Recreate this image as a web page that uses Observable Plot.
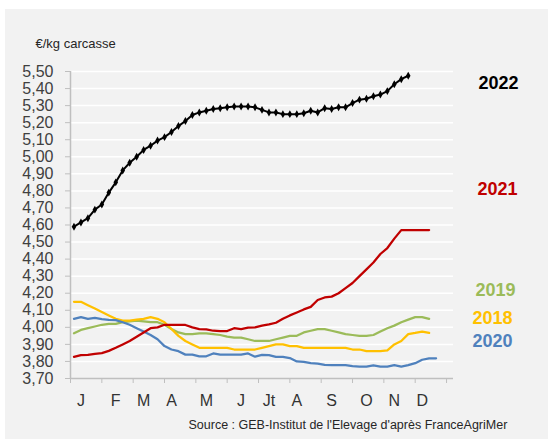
<!DOCTYPE html>
<html><head><meta charset="utf-8">
<script src="https://cdn.jsdelivr.net/npm/d3@7"></script>
<script src="https://cdn.jsdelivr.net/npm/@observablehq/plot@0.6"></script>
<style>
body{margin:0;background:#fff;width:548px;height:448px;overflow:hidden;position:relative;font-family:"Liberation Sans",Arial,sans-serif}
#panel{position:absolute;left:5px;top:9px;width:543px;height:430px;background:#f2f2f2}
#chart{position:absolute;left:0;top:0}
</style></head><body><div id="panel"></div><div id="chart"></div>
<script>
const seriesNames = ["2019", "2018", "2020", "2021", "2022"];
const seriesColors = ["#9bbb59", "#ffc000", "#4f81bd", "#c00000", "#000000"];

const price2022 = [4.59, 4.615, 4.64, 4.69, 4.72, 4.79, 4.85, 4.92, 4.965, 5.00,
  5.04, 5.065, 5.095, 5.115, 5.145, 5.18, 5.21, 5.245, 5.26, 5.27,
  5.28, 5.285, 5.29, 5.295, 5.295, 5.295, 5.29, 5.275, 5.26, 5.26,
  5.25, 5.25, 5.25, 5.255, 5.27, 5.26, 5.285, 5.28, 5.29, 5.29,
  5.315, 5.335, 5.34, 5.355, 5.365, 5.385, 5.425, 5.455, 5.475];
const price2021 = [3.827, 3.837, 3.838, 3.845, 3.849, 3.862, 3.88, 3.90, 3.92, 3.945,
  3.97, 3.995, 4.00, 4.015, 4.015, 4.015, 4.014, 4.00, 3.99, 3.988,
  3.98, 3.978, 3.978, 3.995, 3.99, 3.998, 4.00, 4.01, 4.017, 4.027,
  4.05, 4.07, 4.087, 4.105, 4.12, 4.16, 4.175, 4.18, 4.20, 4.23,
  4.26, 4.30, 4.34, 4.38, 4.43, 4.465, 4.52, 4.57, 4.57, 4.57,
  4.57, 4.57];
const price2019 = [3.965, 3.985, 3.995, 4.005, 4.015, 4.02, 4.02, 4.03, 4.035, 4.04,
  4.035, 4.03, 4.03, 4.015, 3.99, 3.97, 3.96, 3.96, 3.965, 3.965,
  3.96, 3.955, 3.945, 3.94, 3.94, 3.93, 3.92, 3.92, 3.92, 3.93,
  3.94, 3.95, 3.95, 3.97, 3.98, 3.99, 3.99, 3.98, 3.97, 3.96,
  3.955, 3.95, 3.95, 3.955, 3.975, 3.995, 4.01, 4.03, 4.045, 4.06,
  4.06, 4.05];
const price2018 = [4.15, 4.15, 4.13, 4.11, 4.09, 4.07, 4.05, 4.04, 4.04, 4.045,
  4.05, 4.06, 4.05, 4.03, 3.99, 3.95, 3.92, 3.90, 3.88, 3.88,
  3.88, 3.88, 3.88, 3.87, 3.87, 3.87, 3.87, 3.88, 3.89, 3.90,
  3.90, 3.89, 3.89, 3.88, 3.88, 3.88, 3.88, 3.88, 3.88, 3.88,
  3.87, 3.87, 3.86, 3.86, 3.86, 3.865, 3.90, 3.92, 3.96, 3.967,
  3.975, 3.967];
const price2020 = [4.05, 4.06, 4.05, 4.055, 4.048, 4.044, 4.042, 4.03, 4.015, 3.995,
  3.976, 3.955, 3.93, 3.89, 3.87, 3.86, 3.84, 3.84, 3.83, 3.83,
  3.847, 3.84, 3.84, 3.84, 3.84, 3.847, 3.828, 3.838, 3.837, 3.827,
  3.827, 3.82, 3.80, 3.797, 3.79, 3.787, 3.78, 3.778, 3.778, 3.778,
  3.773, 3.77, 3.77, 3.777, 3.77, 3.77, 3.778, 3.77, 3.778, 3.79,
  3.81, 3.818, 3.818];

const monthLabels = ["J", "F", "M", "A", "M", "J", "Jt", "A", "S", "O", "N", "D"];
const monthLabelWeeks = [2, 7, 11, 15, 20, 25, 29, 33, 38, 43, 47, 51];
const monthBoundaryWeeks = [0.5, 5, 9.5, 14, 18.5, 23, 27.5, 32, 36.5, 41, 45.5, 50, 54.5];
const yTickValues = [3.7, 3.8, 3.9, 4.0, 4.1, 4.2, 4.3, 4.4, 4.5, 4.6, 4.7, 4.8, 4.9, 5.0, 5.1, 5.2, 5.3, 5.4, 5.5];
const unitLabel = "€/kg carcasse";
const sourceLabel = "Source : GEB-Institut de l'Elevage d'après FranceAgriMer";

const priceBySeries = {"2022": price2022, "2021": price2021, "2019": price2019, "2018": price2018, "2020": price2020};
const rows = seriesNames.flatMap(name => priceBySeries[name].map((v, i) => ({series: name, week: i + 1, price: v})));
const colorOf = Object.fromEntries(seriesNames.map((n, i) => [n, seriesColors[i]]));

const FONT = "'Liberation Sans', Arial, sans-serif";
const labelPlacement = {"2022": [25, 12], "2021": [24, 118], "2019": [22, 219], "2018": [19, 247], "2020": [19, 270]};

const marks = [
  Plot.ruleY(yTickValues.filter(d => d > 3.7), {stroke: "#ffffff", strokeWidth: 1.5}),
  Plot.ruleX([0.5], {stroke: "#bfbfbf", strokeWidth: 1.5}),
  Plot.ruleY([3.7], {stroke: "#bfbfbf", strokeWidth: 1.5}),
  Plot.axisY({ticks: yTickValues, tickFormat: d => d.toFixed(2).replace(".", ","), tickSize: 5, tickPadding: 12,
    stroke: "#bfbfbf", fill: "#404040", fontSize: 16, fontFamily: FONT, label: null}),
  Plot.axisX({ticks: monthBoundaryWeeks, tickSize: 5, tickFormat: () => "", stroke: "#bfbfbf", label: null}),
  Plot.axisX({ticks: monthLabelWeeks, tickSize: 0, tickPadding: 16, tickFormat: d => monthLabels[monthLabelWeeks.indexOf(d)],
    fill: "#333333", fontSize: 16, fontFamily: FONT, label: null}),
];
for (const name of seriesNames) {
  marks.push(Plot.lineY(rows.filter(r => r.series === name), {x: "week", y: "price", stroke: colorOf[name], strokeWidth: name === "2022" ? 2 : 2.25}));
}
marks.push(Plot.dot(rows.filter(r => r.series === "2022"), {x: "week", y: "price", symbol: "diamond", r: 2.4, fill: "#000000"}));
for (const name of seriesNames) {
  const [dx, dy] = labelPlacement[name];
  marks.push(Plot.text([name], {frameAnchor: "top-right", dx, dy, text: d => d, textAnchor: "start", lineAnchor: "middle",
    fill: colorOf[name], fontSize: 18, fontWeight: "bold", fontFamily: FONT}));
}
marks.push(Plot.text([unitLabel], {frameAnchor: "top-left", dx: -35, dy: -28, text: d => d, textAnchor: "start", lineAnchor: "middle", fill: "#262626", fontSize: 13, fontFamily: FONT}));
marks.push(Plot.text([sourceLabel], {frameAnchor: "bottom-left", dx: 118, dy: 46, text: d => d, textAnchor: "start", lineAnchor: "middle", fill: "#262626", fontSize: 12.5, fontFamily: FONT}));

const chart = Plot.plot({
  width: 548, height: 448,
  marginLeft: 70, marginRight: 95, marginTop: 71, marginBottom: 70,
  style: {background: "transparent", fontFamily: FONT},
  x: {domain: [0.5, 55.5]},
  y: {domain: [3.7, 5.5]},
  marks
});
document.getElementById("chart").appendChild(chart);
</script></body></html>
